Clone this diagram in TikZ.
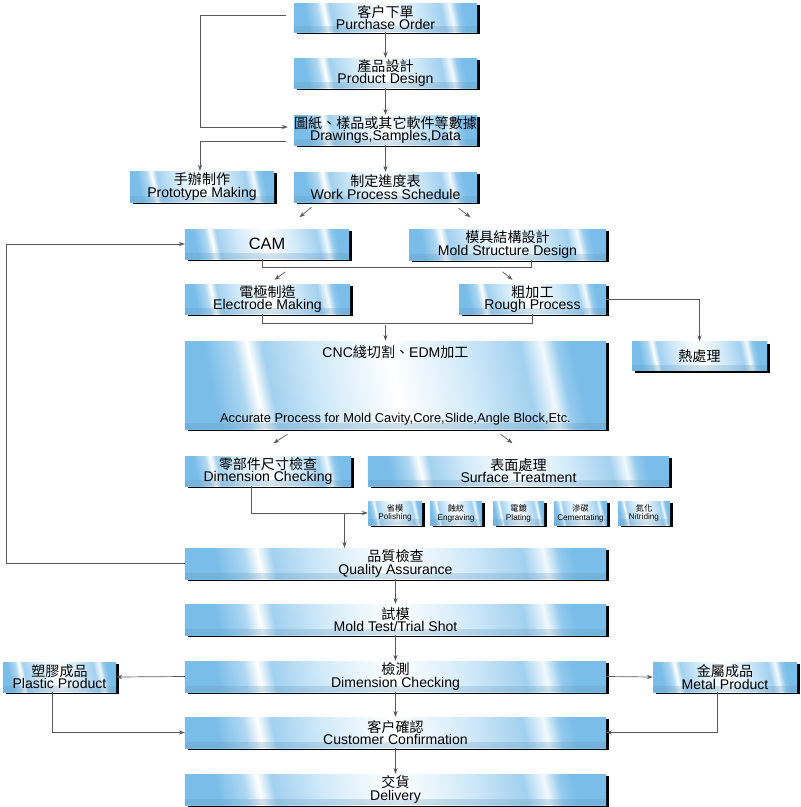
\documentclass[tikz,border=0pt]{standalone}
\usepackage{fontspec}
\setmainfont{Liberation Sans}
\newfontfamily\cjk{Noto Sans CJK TC}
\newcommand\zh[1]{{\cjk #1}}
\usetikzlibrary{arrows.meta,shadows,calc,fadings}
\definecolor{glassblue}{RGB}{122,189,233}
\definecolor{glasslight}{RGB}{210,234,249}
\pgfdeclarehorizontalshading{glass}{100bp}{color(0bp)=(glassblue); color(25bp)=(glassblue); color(29bp)=(glassblue!60!white); color(31bp)=(white); color(33bp)=(glassblue!70!white); color(40bp)=(glasslight); color(50bp)=(white); color(60bp)=(glasslight); color(68bp)=(glassblue!70!white); color(71bp)=(white!90!glassblue); color(73bp)=(glassblue!80!white); color(75bp)=(glassblue); color(100bp)=(glassblue)}
\begin{document}
\begin{tikzpicture}[x=0.03cm,y=-0.03cm,
  stage/.style={shade, shading=glass, shading angle=12, inner sep=0pt, align=center,
    drop shadow={shadow xshift=2.2pt,shadow yshift=-2pt,fill=black,opacity=1},
    path picture={\fill[glassblue!80!black, path fading=north, opacity=0.3]
      (path picture bounding box.south west) rectangle ([yshift=0.18cm]path picture bounding box.south east);},
    font=\fontsize{12}{10.5}\selectfont, minimum height=0.9cm},
  wide/.style={stage, minimum width=12.63cm, minimum height=0.93cm},
  finish/.style={stage, minimum height=0.72cm, font=\fontsize{7}{7.5}\selectfont},
  wire/.style={draw=black!65, line width=0.6pt},
  link/.style={wire, -{Stealth[length=5pt,width=3.6pt]}}]
\useasboundingbox (0,0) rectangle (800,807);

% order and design
\node[stage, minimum width=5.49cm, minimum height=0.87cm] (po) at (385.5,17.5) {\zh{客户下單}\\Purchase Order};
\node[stage, minimum width=5.49cm] (pd) at (385.5,73) {\zh{產品設計}\\Product Design};
\node[stage, minimum width=5.49cm] (dr) at (385.5,130) {\zh{圖紙、樣品或其它軟件等數據}\\Drawings,Samples,Data};
\node[stage, minimum width=5.49cm] (wps) at (385.5,187) {\zh{制定進度表}\\Work Process Schedule};
\node[stage, minimum width=4.32cm, minimum height=0.93cm] (proto) at (202,186.5) {\zh{手辦制作}\\Prototype Making};

% machining
\node[stage, minimum width=4.92cm, font=\fontsize{14}{14}\selectfont] (cam) at (267,244) {CAM};
\node[stage, minimum width=5.91cm, minimum height=0.93cm] (msd) at (507.5,244.5) {\zh{模具結構設計}\\Mold Structure Design};
\node[stage, minimum width=4.95cm] (elec) at (267.5,299) {\zh{電極制造}\\Electrode Making};
\node[stage, minimum width=4.41cm] (rough) at (532.5,299) {\zh{粗加工}\\Rough Process};
\node[wide, minimum height=2.64cm] (cnc) at (395.5,385) {CNC\zh{綫切割、}EDM\zh{加工}\\[45pt]{\fontsize{11}{10}\selectfont Accurate Process for Mold Cavity,Core,Slide,Angle Block,Etc.}};
\node[stage, minimum width=4.05cm, minimum height=0.87cm] (heat) at (699.5,356) {\zh{熱處理}};
\node[stage, minimum width=4.98cm] (dcp) at (268,471) {\zh{零部件尺寸檢查}\\Dimension Checking};
\node[stage, minimum width=9.03cm] (surf) at (518.5,471) {\zh{表面處理}\\Surface Treatment};
\node[finish, minimum width=1.62cm] (pol) at (395,513) {\zh{省模}\\Polishing};
\node[finish, minimum width=1.56cm] (eng) at (456,513) {\zh{蝕紋}\\Engraving};
\node[finish, minimum width=1.53cm] (pla) at (518.5,513) {\zh{電鍍}\\Plating};
\node[finish, minimum width=1.59cm] (cem) at (580.5,513) {\zh{滲碳}\\Cementating};
\node[finish, minimum width=1.56cm] (nit) at (644,513) {\zh{氮化}\\Nitriding};

% checking and delivery
\node[wide] (qa) at (395.5,563.5) {\zh{品質檢查}\\Quality Assurance};
\node[wide] (mt) at (395.5,619.5) {\zh{試模}\\Mold Test/Trial Shot};
\node[wide] (dc) at (395.5,676.5) {\zh{檢測}\\Dimension Checking};
\node[stage, minimum width=3.39cm] (plastic) at (59.5,677) {\zh{塑膠成品}\\Plastic Product};
\node[stage, minimum width=4.32cm] (metal) at (725,677) {\zh{金屬成品}\\Metal Product};
\node[wide] (cc) at (395.5,732.5) {\zh{客户確認}\\Customer Confirmation};
\node[wide] (del) at (395.5,789.5) {\zh{交貨}\\Delivery};

\path[link] (po) -- (pd);
\path[link] (pd) -- (dr);
\path[link] (dr) -- (wps);
\path[link] ($(po.west)+(-8,-2)$) -- ++(-85,0) |- ($(dr.west)+(-6,-3)$);
\path[link] ($(dr.west)+(-8,11)$) -| ($(proto.north)+(-2,0)$);
\path[link] ($(wps.south)+(-74,5)$) -- ++(-12,10);
\path[link] ($(wps.south)+(73,6)$) -- ++(12,9);

\path[wire] ($(cam.south)+(-5,0)$) -- ++(0,8) -| ($(msd.south)+(24,0)$);
\path[link] ($(elec.north)+(18,-12)$) -- ++(-11,8);
\path[link] ($(rough.north)+(-30,-12)$) -- ++(10,8);
\path[wire] ($(elec.south)+(-5,0)$) -- ++(0,9) -| (rough.south);
\path[link] ($(cnc.north)+(-10,-16)$) -- ($(cnc.north)+(-10,0)$);
\path[link] (rough.east) -| (heat.north);

\path[link] ($(cnc.south)+(-108,5)$) -- ++(-14,9);
\path[link] ($(cnc.south)+(105,5)$) -- ++(12,9);
\path[link] ($(dcp.south)+(-17,0)$) |- (pol.west);
\path[link] ($(qa.north)+(-51,-34)$) -- ($(qa.north)+(-51,0)$);
\path[link] (qa.west) -- ++(-178,0) |- (cam.west);

\path[link] (qa) -- (mt);
\path[link] (mt) -- (dc);
\path[link] (dc) -- (cc);
\path[link] (cc) -- (del);
\path[link] (dc.west) -- (plastic.east);
\path[link] (dc.east) -- (metal.west);
\path[link] ($(plastic.south)+(-7,0)$) |- (cc.west);
\path[link] ($(metal.south)+(-8,0)$) |- (cc.east);
\end{tikzpicture}
\end{document}
